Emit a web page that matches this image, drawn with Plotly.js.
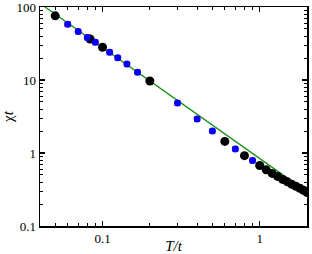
<!DOCTYPE html>
<html>
<head>
<meta charset="utf-8">
<script src="https://cdn.plot.ly/plotly-3.0.1.min.js"></script>
<style>html,body{margin:0;padding:0;background:#fff;}#chart{width:312px;height:254px;}</style>
</head>
<body>
<div id="chart"></div>
<script>
// Black series (T/t, chi*t)
const blackT = [0.05, 0.0833, 0.1, 0.2, 0.6, 0.8, 1.0, 1.1, 1.2, 1.3, 1.4, 1.5, 1.6, 1.7, 1.8, 1.9, 2.0];
const blackChi = [75.6, 36.5, 28.1, 9.7, 1.44, 0.92, 0.675, 0.59, 0.525, 0.478, 0.435, 0.403, 0.372, 0.35, 0.329, 0.309, 0.288];
// Blue series
const blueT = [0.06, 0.07, 0.08, 0.09, 0.111, 0.125, 0.143, 0.167, 0.3, 0.4, 0.5, 0.7, 0.9];
const blueChi = [58.2, 46.2, 38.3, 32.8, 24.0, 20.1, 16.5, 12.8, 4.83, 2.93, 2.0, 1.137, 0.79];
// Green reference line endpoints
const lineT = [0.04, 2.0];
const lineChi = [112, 0.293];

const redT = blackT.concat(blueT);
const redChi = blackChi.concat(blueChi);

const traces = [
  {x: lineT, y: lineChi, mode: 'lines', line: {color: '#189018', width: 1.3}, hoverinfo: 'skip'},
  {x: redT, y: redChi, mode: 'markers', marker: {symbol: 'square', size: 6, color: '#ff3030'}},
  {x: blackT, y: blackChi, mode: 'markers', marker: {symbol: 'circle', size: 9, color: '#000000'}},
  {x: blueT, y: blueChi, mode: 'markers', marker: {symbol: 'circle', size: 7, color: '#0000ff'}}
];

const fontFam = 'Liberation Serif, Times New Roman, serif';
const axisCommon = {
  type: 'log', showgrid: false, zeroline: false,
  showline: true, linecolor: '#000', linewidth: 1.5, mirror: 'allticks',
  ticks: 'inside', ticklen: 5, tickwidth: 1.3, tickcolor: '#000',
  dtick: 1, ticklabeloverflow: 'allow',
  minor: {ticks: 'inside', ticklen: 3, tickwidth: 1, tickcolor: '#000', dtick: 'D1', showgrid: false},
  tickfont: {family: fontFam, size: 13, color: '#000'}
};

const layout = {
  width: 312, height: 254,
  margin: {l: 40, r: 5, t: 7, b: 28},
  paper_bgcolor: '#fff', plot_bgcolor: '#fff',
  showlegend: false,
  font: {family: fontFam, color: '#000'},
  xaxis: Object.assign({}, axisCommon, {
    range: [Math.log10(0.04), Math.log10(2)],
    title: {text: '<i>T/t</i>', font: {family: fontFam, size: 15, color: '#000'}, standoff: 2}
  }),
  yaxis: Object.assign({}, axisCommon, {
    range: [-1, 2],
    title: {text: 'χ<i>t</i>', font: {family: fontFam, size: 15, color: '#000'}, standoff: 0}
  })
};

Plotly.newPlot('chart', traces, layout, {staticPlot: true, displayModeBar: false});
</script>
</body>
</html>
